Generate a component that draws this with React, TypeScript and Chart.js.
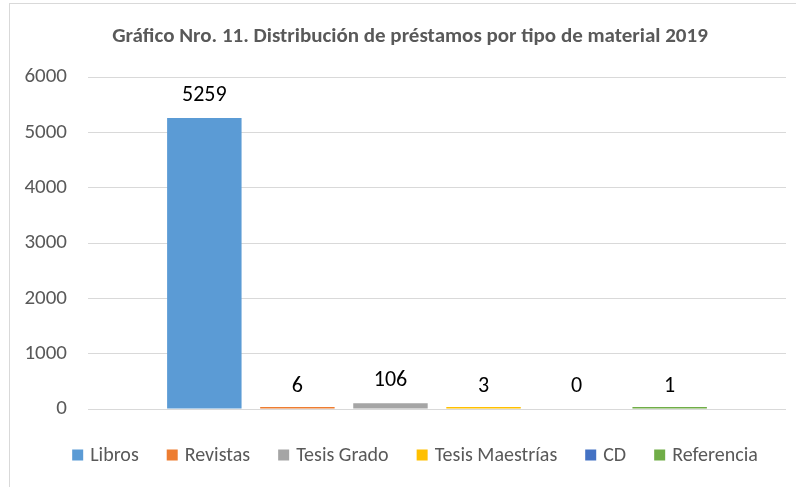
import React, { useEffect, useRef } from "react";
import { Chart, registerables } from "chart.js";

Chart.register(...registerables);

const categories = [""];
const seriesNames = ["Libros", "Revistas", "Tesis Grado", "Tesis Maestrías", "CD", "Referencia"];
const seriesValues = [5259, 6, 106, 3, 0, 1];
const seriesColors = ["#5B9BD5", "#ED7D31", "#A5A5A5", "#FFC000", "#4472C4", "#70AD47"];
const yTicks = [0, 1000, 2000, 3000, 4000, 5000, 6000];
const titleText = "Gráfico Nro. 11. Distribución de préstamos por tipo de material 2019";

const FONT = "Carlito, Lato, sans-serif";

const dataLabelPlugin = {
  id: "dataLabels",
  afterDatasetsDraw(chart: any) {
    const ctx = chart.ctx;
    ctx.save();
    ctx.font = `22px ${FONT}`;
    ctx.fillStyle = "#000000";
    ctx.textAlign = "center";
    ctx.textBaseline = "alphabetic";
    chart.data.datasets.forEach((ds: any, i: number) => {
      const meta = chart.getDatasetMeta(i);
      meta.data.forEach((bar: any, j: number) => {
        const v = ds.data[j];
        ctx.fillText(String(v), bar.x, chart.scales.y.getPixelForValue(v) - 17);
      });
    });
    ctx.restore();
  },
};

// Title and legend drawn so that they centre on the chart frame rather than the canvas.
const frameCenterX = 412;
const titleY = 37;
const legendY = 455;

const titleLegendPlugin = {
  id: "titleLegend",
  afterDraw(chart: any) {
    const ctx = chart.ctx;
    ctx.save();
    ctx.font = `bold 21px ${FONT}`;
    ctx.fillStyle = "#595959";
    ctx.textAlign = "center";
    ctx.textBaseline = "middle";
    ctx.fillText(titleText, frameCenterX - 2, titleY);

    ctx.font = `20px ${FONT}`;
    const box = 11;
    const gap = 7;
    const spacing = 28;
    const widths = chart.data.datasets.map((ds: any) => box + gap + ctx.measureText(ds.label).width);
    const total = widths.reduce((a: number, b: number) => a + b, 0) + spacing * (widths.length - 1);
    let x = frameCenterX + 3 - total / 2;
    ctx.textAlign = "left";
    chart.data.datasets.forEach((ds: any, i: number) => {
      ctx.fillStyle = ds.backgroundColor;
      ctx.fillRect(x, legendY - box / 2, box, box);
      ctx.fillStyle = "#595959";
      ctx.fillText(ds.label, x + box + gap, legendY + 1);
      x += widths[i] + spacing;
    });
    ctx.restore();
  },
};

export default function App() {
  const ref = useRef<HTMLCanvasElement>(null);
  useEffect(() => {
    if (!ref.current) return;
    const chart = new Chart(ref.current, {
      type: "bar",
      data: {
        labels: categories,
        datasets: seriesNames.map((name, i) => ({
          label: name,
          data: [seriesValues[i]],
          backgroundColor: seriesColors[i],
          borderWidth: 0,
          categoryPercentage: 0.8,
          barPercentage: 0.8,
          minBarLength: seriesValues[i] > 0 ? 2 : 0,
        })),
      },
      options: {
        animation: false,
        responsive: false,
        layout: { padding: { left: 10, right: 10, top: 77, bottom: 78 } },
        plugins: {
          title: { display: false },
          legend: { display: false },
          tooltip: { enabled: false },
        },
        scales: {
          x: {
            display: false,
          },
          y: {
            min: 0,
            max: 6000,
            afterBuildTicks: (s: any) => {
              s.ticks = yTicks.map((v) => ({ value: v }));
            },
            grid: { color: "#D9D9D9", lineWidth: 1, drawTicks: false },
            border: { display: false },
            ticks: {
              color: "#595959",
              font: { family: FONT, size: 21 },
              padding: 21,
              callback: (v: any) => String(v),
            },
            afterFit: (s: any) => {
              s.width = 78;
            },
          },
        },
      },
      plugins: [dataLabelPlugin, titleLegendPlugin],
    });
    return () => chart.destroy();
  }, []);
  return (
    <div style={{ position: "absolute", left: 0, top: 0, width: 796, height: 487, overflow: "hidden", background: "#fff" }}>
      <div
        style={{
          position: "absolute",
          left: 9,
          top: 3,
          width: 820,
          height: 520,
          border: "1px solid #D9D9D9",
          boxSizing: "border-box",
        }}
      />
      <canvas ref={ref} width={796} height={487} style={{ position: "absolute", left: 0, top: 0 }} />
    </div>
  );
}
